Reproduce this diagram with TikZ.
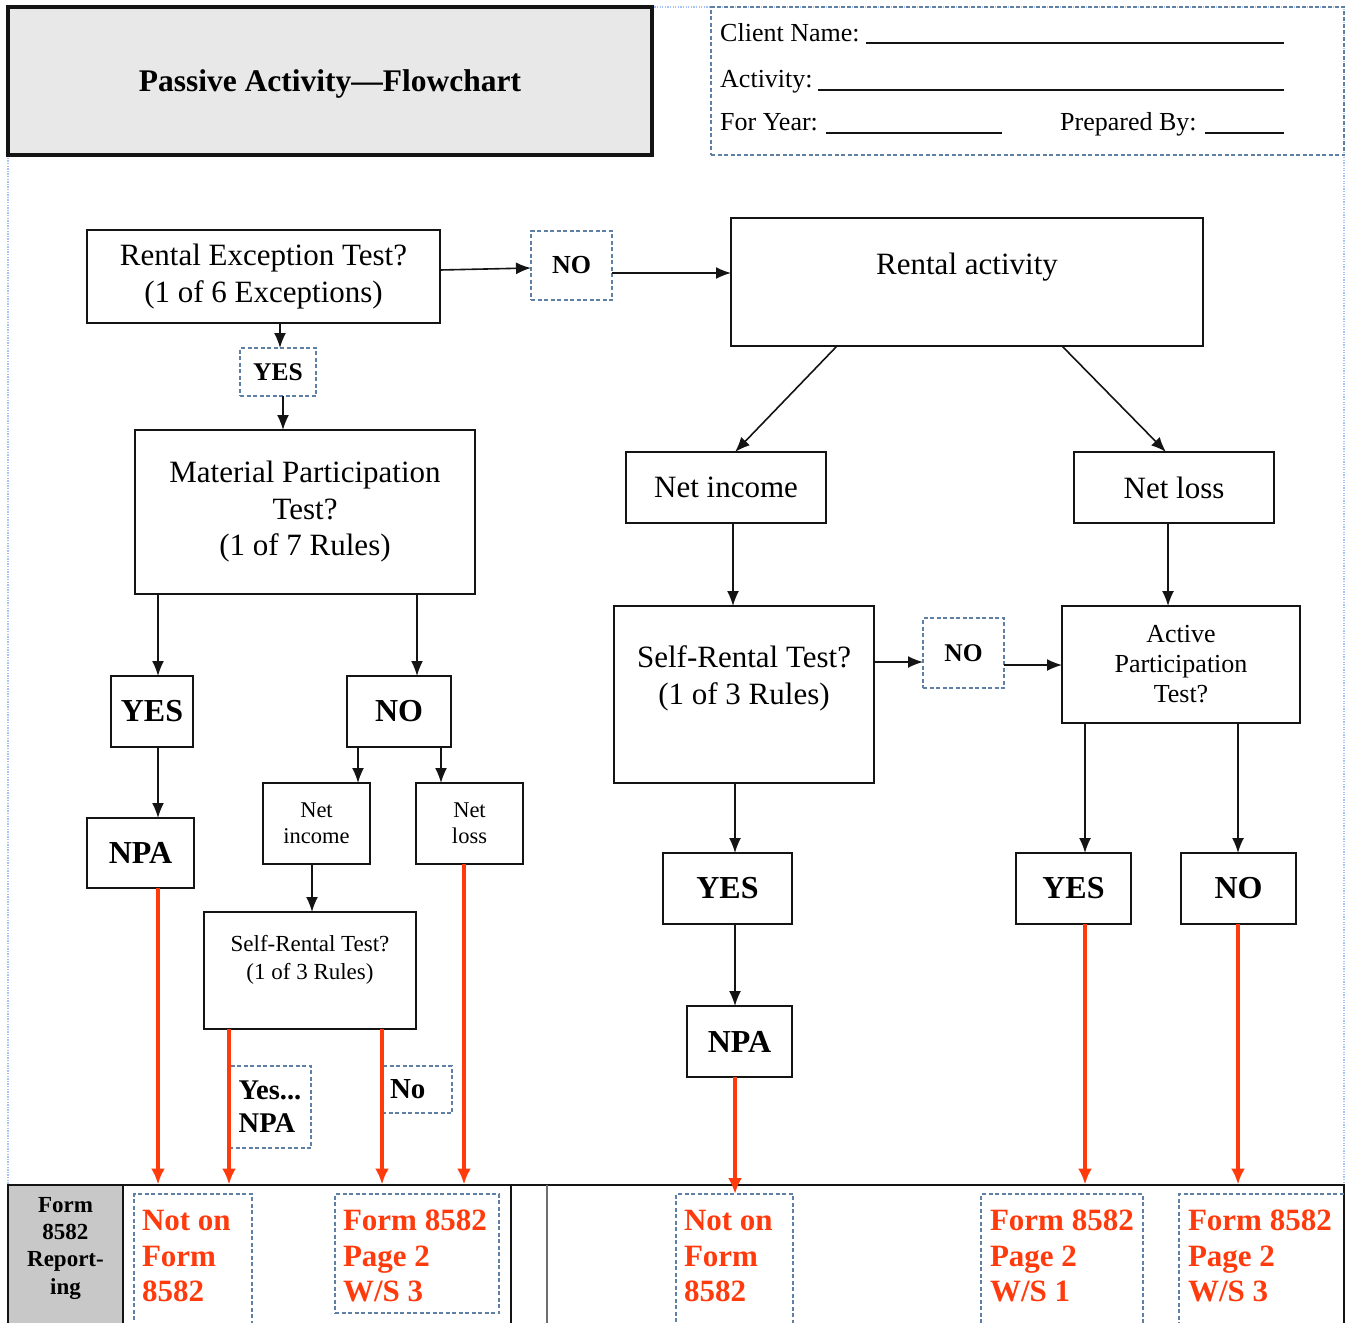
\documentclass[tikz,border=0pt]{standalone}
\usepackage{fontspec}
\setmainfont{Liberation Serif}
\usetikzlibrary{arrows.meta}
\definecolor{lineblack}{RGB}{20,20,20}
\definecolor{dashblue}{RGB}{95,128,165}
\definecolor{pageblue}{RGB}{165,195,250}
\definecolor{redc}{RGB}{255,58,12}
\definecolor{titlegray}{RGB}{232,232,232}
\definecolor{cellgray}{RGB}{200,200,200}
\definecolor{midgray}{RGB}{110,110,110}
\begin{document}
\begin{tikzpicture}[x=1pt,y=-1pt,
  bx/.style={draw=lineblack, line width=1.6pt, inner sep=0pt, outer sep=0pt, align=center, font=\fontsize{31}{36.5}\selectfont},
  bbx/.style={bx, font=\bfseries\fontsize{32}{36}\selectfont},
  dbx/.style={draw=dashblue, line width=1.4pt, dash pattern=on 4pt off 2.5pt, inner sep=0pt, outer sep=0pt, align=center, font=\bfseries\fontsize{25.5}{30}\selectfont},
  rbox/.style={dbx, anchor=north west, inner xsep=8pt, font=\bfseries\fontsize{31}{35.5}\selectfont, text=redc},
  arr/.style={draw=lineblack, line width=1.6pt, -{Latex[length=15pt,width=12pt]}},
  rarr/.style={draw=redc, line width=3.8pt, -{Latex[length=16pt,width=14pt]}},
  hdr/.style={anchor=base west, inner sep=0pt, font=\fontsize{26}{30}\selectfont},
  uline/.style={draw=lineblack, line width=1.8pt},
]
\useasboundingbox (0,0) rectangle (1346,1322);
\clip (0,0) rectangle (1346,1322);
% page border
\draw[pageblue, line width=1.3pt, dash pattern=on 1.3pt off 1.3pt] (8,7) rectangle (1344,1340);

% title and form header
\node[draw=lineblack, line width=3.5pt, fill=titlegray, minimum width=644pt, minimum height=148pt, inner sep=0pt, text depth=0pt, font=\bfseries\fontsize{31.5}{36}\selectfont] (title) at (330,81) {Passive Activity—Flowchart};
\node[dbx, minimum width=633pt, minimum height=148pt] (form) at (1027.5,81) {};
\node[hdr] (cn) at (720,41.5) {Client Name:};
\draw[uline] (866,43) -- (1284,43);
\node[hdr] (act) at (720,87.5) {Activity:};
\draw[uline] (818,90) -- (1284,90);
\node[hdr] (fy) at (720,130.5) {For Year:};
\draw[uline] (826,133) -- (1002,133);
\node[hdr] (pb) at (1060,130.5) {Prepared By:};
\draw[uline] (1205,133) -- (1284,133);

% nodes
\node[bx, minimum width=353pt, minimum height=93pt] (rex) at (263.5,276.5) {Rental Exception Test?\\(1 of 6 Exceptions)};
\node[dbx, minimum width=76pt, minimum height=48pt] (yes1) at (278,372) {YES};
\node[dbx, minimum width=81pt, minimum height=69pt, font=\bfseries\fontsize{26}{30}\selectfont] (no1) at (571.5,265.5) {NO};
\node[bx, minimum width=472pt, minimum height=128pt] (ract) at (967,282) {\parbox[c][128pt][t]{470pt}{\vspace*{35pt}\centering Rental activity}};
\node[bx, minimum width=340pt, minimum height=164pt] (mat) at (305,512) {Material Participation\\Test?\\(1 of 7 Rules)};
\node[bx, minimum width=200pt, minimum height=71pt] (nir) at (726,487.5) {Net income};
\node[bx, minimum width=200pt, minimum height=71pt] (nlr) at (1174,487.5) {Net loss};
\node[bx, minimum width=260pt, minimum height=177pt] (srr) at (744,694.5) {\parbox[c][177pt][t]{258pt}{\vspace*{40pt}\centering Self-Rental Test?\\(1 of 3 Rules)}};
\node[dbx, minimum width=81pt, minimum height=70pt] (no2) at (963.5,653) {NO};
\node[bx, minimum width=238pt, minimum height=117pt, font=\fontsize{26}{30}\selectfont] (ap) at (1181,664.5) {Active\\Participation\\Test?};
\node[bbx, minimum width=82pt, minimum height=71pt] (yesl) at (152,711.5) {YES};
\node[bbx, minimum width=104pt, minimum height=71pt] (nol) at (399,711.5) {NO};
\node[bbx, minimum width=107pt, minimum height=70pt] (npal) at (140.5,853) {NPA};
\node[bx, minimum width=107pt, minimum height=81pt, font=\fontsize{22.5}{26}\selectfont] (nis) at (316.5,823.5) {Net\\income};
\node[bx, minimum width=107pt, minimum height=81pt, font=\fontsize{22.5}{26}\selectfont] (nls) at (469.5,823.5) {Net\\loss};
\node[bx, minimum width=212pt, minimum height=117pt, font=\fontsize{23}{28}\selectfont] (srs) at (310,970.5) {\parbox[c][117pt][t]{210pt}{\vspace*{23pt}\centering Self-Rental Test?\\(1 of 3 Rules)}};
\node[dbx, minimum width=82pt, minimum height=82pt, align=left, font=\bfseries\fontsize{28.5}{33}\selectfont] (yesnpa) at (270,1107) {Yes...\\NPA};
\node[dbx, minimum width=70pt, minimum height=47pt, inner xsep=8pt, text width=54pt, align=left, font=\bfseries\fontsize{29}{33}\selectfont] (no3) at (417,1089.5) {No};
\node[bbx, minimum width=129pt, minimum height=71pt] (yesm) at (727.5,888.5) {YES};
\node[bbx, minimum width=105pt, minimum height=71pt] (npam) at (739.5,1041.5) {NPA};
\node[bbx, minimum width=115pt, minimum height=71pt] (yesr) at (1073.5,888.5) {YES};
\node[bbx, minimum width=115pt, minimum height=71pt] (nor) at (1238.5,888.5) {NO};

% bottom table
\node[draw=lineblack, line width=2pt, anchor=north west, minimum width=1336pt, minimum height=160pt, inner sep=0pt, outer sep=0pt] (tbl) at (8,1184.5) {};
\node[draw=lineblack, line width=2pt, fill=cellgray, anchor=north west, inner sep=0pt, outer sep=0pt, font=\bfseries\fontsize{23}{27.3}\selectfont] (lcell) at (8,1184.5) {\parbox[c][160pt][t]{115pt}{\vspace*{12.8pt}\centering Form\\8582\\Report-\\ing}};
\draw[lineblack, line width=2pt] (511,1184.5) -- (511,1330);
\draw[midgray, line width=2pt] (547,1184.5) -- (547,1330);

\node[rbox] (b1) at (134,1194) {\parbox[c][136pt][t]{102pt}{\vspace*{16.2pt}\raggedright Not on\\Form\\8582}};
\node[rbox] (b2) at (335,1194) {\parbox[c][119pt][t]{148pt}{\vspace*{16.2pt}\raggedright Form 8582\\Page 2\\W/S 3}};
\node[rbox] (b3) at (676,1194) {\parbox[c][136pt][t]{101pt}{\vspace*{16.2pt}\raggedright Not on\\Form\\8582}};
\node[rbox, inner xsep=9pt] (b4) at (981,1194) {\parbox[c][136pt][t]{144pt}{\vspace*{16.2pt}\raggedright Form 8582\\Page 2\\W/S 1}};
\node[rbox, inner xsep=9pt] (b5) at (1179,1194) {\parbox[c][136pt][t]{162pt}{\vspace*{16.2pt}\raggedright Form 8582\\Page 2\\W/S 3}};

% black connectors
\draw[arr] ([yshift=6.5pt]rex.east) -- ([yshift=-2.5pt]no1.west);
\draw[arr] ([yshift=-7.5pt]no1.east) -- ([yshift=9pt]ract.west);
\draw[arr] ([xshift=16.5pt]rex.south) -- ([xshift=2pt]yes1.north);
\draw[arr] ([xshift=5pt]yes1.south) -- ([xshift=-22pt]mat.north);
\draw[arr] ([xshift=-130pt]ract.south) -- ([xshift=9pt]nir.north);
\draw[arr] ([xshift=95pt]ract.south) -- ([xshift=-8pt]nlr.north);
\draw[arr] ([xshift=7pt]nir.south) -- ([xshift=-11pt]srr.north);
\draw[arr] ([xshift=-6pt]nlr.south) -- ([xshift=-13pt]ap.north);
\draw[arr] ([yshift=32.5pt]srr.east) -- ([yshift=-9pt]no2.west);
\draw[arr] ([yshift=-12pt]no2.east) -- ([yshift=-0.5pt]ap.west);
\draw[arr] ([xshift=-147pt]mat.south) -- ([xshift=6pt]yesl.north);
\draw[arr] ([xshift=112pt]mat.south) -- ([xshift=18pt]nol.north);
\draw[arr] ([xshift=6pt]yesl.south) -- ([xshift=17.5pt]npal.north);
\draw[arr] ([xshift=-41pt]nol.south) -- ([xshift=41.5pt]nis.north);
\draw[arr] ([xshift=42pt]nol.south) -- ([xshift=-28.5pt]nls.north);
\draw[arr] ([xshift=-4.5pt]nis.south) -- ([xshift=2pt]srs.north);
\draw[arr] ([xshift=-9pt]srr.south) -- ([xshift=7.5pt]yesm.north);
\draw[arr] ([xshift=7.5pt]yesm.south) -- ([xshift=-4.5pt]npam.north);
\draw[arr] ([xshift=-96pt]ap.south) -- ([xshift=11.5pt]yesr.north);
\draw[arr] ([xshift=57pt]ap.south) -- ([xshift=-0.5pt]nor.north);

% red connectors
\coordinate (r1) at ([xshift=17.5pt]npal.south);
\coordinate (r2) at ([xshift=-81pt]srs.south);
\coordinate (r3) at ([xshift=72pt]srs.south);
\coordinate (r4) at ([xshift=-5.5pt]nls.south);
\coordinate (r5) at ([xshift=-4.5pt]npam.south);
\coordinate (r6) at ([xshift=11.5pt]yesr.south);
\coordinate (r7) at ([xshift=-0.5pt]nor.south);
\draw[rarr] (r1) -- (r1 |- tbl.north);
\draw[rarr] (r2) -- (r2 |- tbl.north);
\draw[rarr] (r3) -- (r3 |- tbl.north);
\draw[rarr] (r4) -- (r4 |- tbl.north);
\draw[rarr] (r5) -- (r5 |- b3.north);
\draw[rarr] (r6) -- (r6 |- tbl.north);
\draw[rarr] (r7) -- (r7 |- tbl.north);
\end{tikzpicture}
\end{document}
